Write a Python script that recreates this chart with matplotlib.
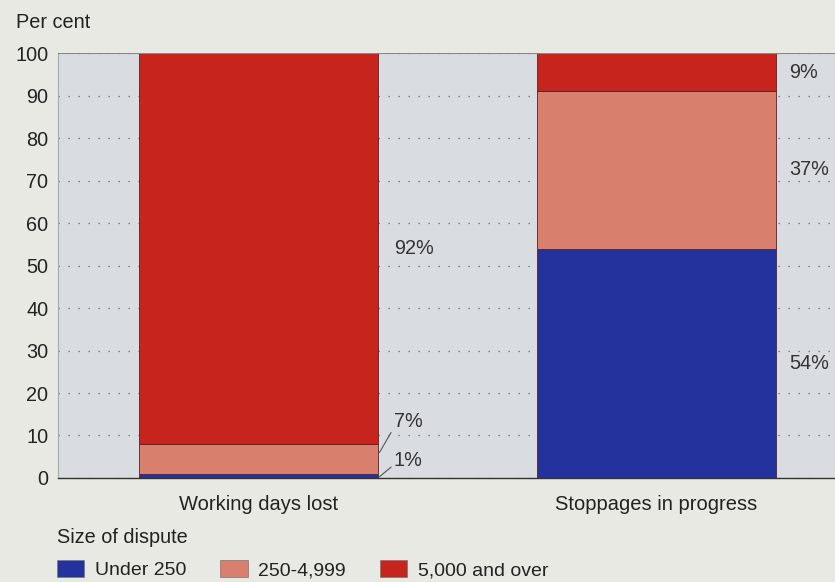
import matplotlib.pyplot as plt
from matplotlib.patches import Patch

categories = ["Working days lost", "Stoppages in progress"]
series = ["Under 250", "250-4,999", "5,000 and over"]
under_250 = [1, 54]
mid_size = [7, 37]
large = [92, 9]
colors = ["#23329c", "#d8806d", "#c6241c"]

plt.rcParams['font.family'] = ['Liberation Sans', 'DejaVu Sans']
plt.rcParams['font.size'] = 14.3

fig = plt.figure(figsize=(8.35, 5.82), dpi=100)
fig.patch.set_facecolor("#e9e9e3")
ax = fig.add_axes([0.0695, 0.1787, 0.94, 0.7302])
ax.set_facecolor("#d9dde2")

x = [0, 1]
width = 0.6
values = [under_250, mid_size, large]
bottoms = [0, 0]
for vals, col in zip(values, colors):
    ax.bar(x, vals, width, bottom=bottoms, color=col, edgecolor="#5a2020",
           linewidth=0.6, zorder=3)
    bottoms = [b + v for b, v in zip(bottoms, vals)]

ax.set_ylim(0, 100)
ax.set_xlim(-0.5038, 1.4686)
ax.set_yticks(range(0, 101, 10))
ax.yaxis.grid(True, linestyle=(0, (1, 7)), color="#666666", linewidth=0.9, zorder=1)
ax.set_axisbelow(True)
ax.tick_params(axis="y", length=0, pad=7, labelcolor="#222222")
ax.tick_params(axis="x", length=0, pad=12, labelcolor="#222222", labelsize=14.5)
ax.set_xticks(x)
ax.set_xticklabels(categories)
for s in ["top", "right"]:
    ax.spines[s].set_visible(False)
ax.spines["left"].set_color("#aaaaaa")
ax.spines["left"].set_linewidth(0.8)
ax.spines["bottom"].set_color("#333333")
ax.spines["bottom"].set_linewidth(1)
ax.axhline(100, color="#888888", linewidth=0.8, zorder=4)

fig.text(0.019, 0.962, "Per cent", ha="left", va="center", color="#222222")

# percentage labels
edge = width / 2
lab_kw = dict(color="#333333", va="center", ha="left")
ax.text(edge + 0.042, 8 + large[0] / 2, f"{large[0]}%", **lab_kw)
ax.annotate(f"{mid_size[0]}%", xy=(edge + 0.004, 6), xytext=(edge + 0.04, 13.4),
            arrowprops=dict(arrowstyle="-", color="#555555", lw=0.8,
                            shrinkA=0, shrinkB=0,
                            relpos=(0, 0.15)), **lab_kw)
ax.annotate(f"{under_250[0]}%", xy=(edge + 0.004, 0.3), xytext=(edge + 0.04, 4),
            arrowprops=dict(arrowstyle="-", color="#555555", lw=0.8,
                            shrinkA=0, shrinkB=0,
                            relpos=(0, 0.3)), **lab_kw)
b = 0
for v in [under_250[1], mid_size[1], large[1]]:
    ax.text(1 + edge + 0.033, b + v / 2, f"{v}%", **lab_kw)
    b += v

# legend
fig.text(0.068, 0.077, "Size of dispute", ha="left", va="center", color="#222222")
handles = [Patch(facecolor=c, edgecolor="#777777", linewidth=0.5) for c in colors]
fig.legend(handles, series, loc="lower left", bbox_to_anchor=(57 / 835, 0.005),
           ncol=3, frameon=False, borderpad=0, borderaxespad=0,
           handlelength=1.4, handleheight=0.95,
           handletextpad=0.55, columnspacing=1.75, fontsize=14,
           labelcolor="#222222")

fig.savefig("out.png", dpi=100, facecolor=fig.get_facecolor())
